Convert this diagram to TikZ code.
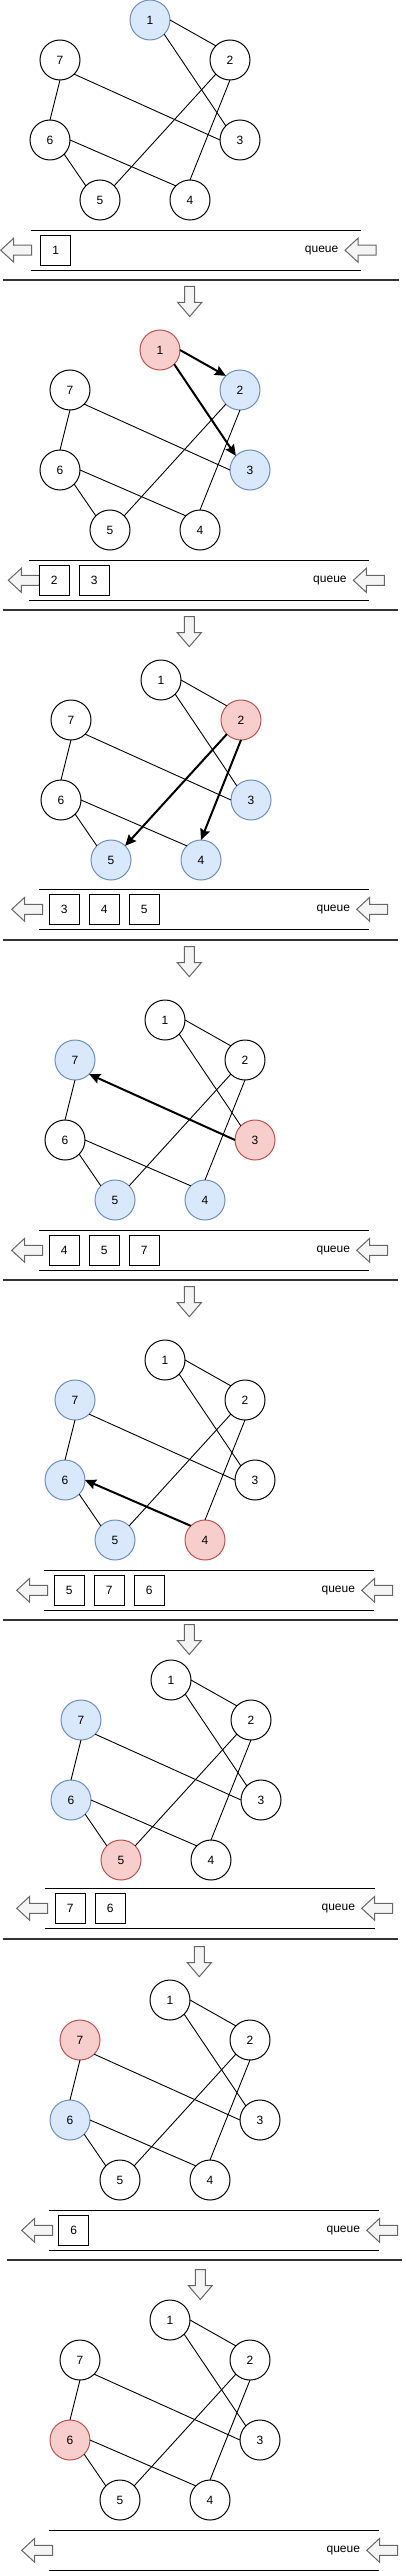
\documentclass[tikz,border=0pt]{standalone}
\usepackage{fontspec}
\setmainfont{Liberation Sans}
\usepackage{tikz}
\usetikzlibrary{positioning,arrows.meta}
\definecolor{seenfill}{HTML}{DAE8FC}
\definecolor{seenline}{HTML}{6C8EBF}
\definecolor{curfill}{HTML}{F8CECC}
\definecolor{curline}{HTML}{B85450}
\definecolor{arrfill}{HTML}{F5F5F5}
\definecolor{arrline}{HTML}{666666}

\newcommand{\bfsgraph}[1]{
  \node[vtx, v1] (#1-1) at (150,20) {1};
  \node[vtx, v2] (#1-2) at (230,60) {2};
  \node[vtx, v3] (#1-3) at (240,140) {3};
  \node[vtx, v4] (#1-4) at (190,200) {4};
  \node[vtx, v5] (#1-5) at (100,200) {5};
  \node[vtx, v6] (#1-6) at (50,140) {6};
  \node[vtx, v7] (#1-7) at (60,60) {7};
  \draw[e12] (#1-1.east) -- (#1-2.north west);
  \draw[e13] (#1-1.south east) -- (#1-3.north west);
  \draw[e73] (#1-7.south east) -- (#1-3.west);
  \draw[e76] (#1-7.south) -- (#1-6.north);
  \draw[e65] (#1-6.south east) -- (#1-5.north west);
  \draw[e64] (#1-6.east) -- (#1-4.north west);
  \draw[e25] (#1-2.south west) -- (#1-5.north east);
  \draw[e24] (#1-2.south) -- (#1-4.north);
}

\newcommand{\queuelane}[6]{
  \draw[qline] (#3,#5-20) -- (#4,#5-20);
  \draw[qline] (#3,#5+20) -- (#4,#5+20);
  \draw[qarrow] (#2,#5) -- ++(13,-12) -- ++(0,7) -- ++(18,0) -- ++(0,10) -- ++(-18,0) -- ++(0,7) -- cycle;
  \draw[qarrow] (#6,#5) -- ++(13,-12) -- ++(0,7) -- ++(18,0) -- ++(0,10) -- ++(-18,0) -- ++(0,7) -- cycle;
  \node[qlabel, anchor=east] (#1) at (#6-6.5,#5) {queue};
}

\newcommand{\downstep}[2]{
  \draw[qarrow] (#1-5,#2) -- ++(10,0) -- ++(0,16) -- ++(7,0) -- ++(-12,14) -- ++(-12,-14) -- ++(7,0) -- cycle;
}

\begin{document}
\begin{tikzpicture}[
    x=1pt, y=-1pt,
    font=\fontsize{12}{14}\selectfont,
    vtx/.style={circle, draw, fill=white, line width=1pt, minimum size=40pt, inner sep=0pt, outer sep=0pt},
    seen/.style={fill=seenfill, draw=seenline},
    cur/.style={fill=curfill, draw=curline},
    v1/.style={}, v2/.style={}, v3/.style={}, v4/.style={},
    v5/.style={}, v6/.style={}, v7/.style={},
    edge/.style={line width=0.9pt},
    visit/.style={line width=2pt, -{Stealth[length=11pt, width=10pt, inset=1.5pt]}},
    visitback/.style={line width=2pt, {Stealth[length=11pt, width=10pt, inset=1.5pt]}-},
    e12/.style=edge, e13/.style=edge, e73/.style=edge, e76/.style=edge,
    e65/.style=edge, e64/.style=edge, e25/.style=edge, e24/.style=edge,
    qbox/.style={rectangle, draw, line width=1pt, minimum size=30pt, inner sep=0pt, outer sep=0pt},
    qline/.style={line width=1pt},
    qlabel/.style={inner sep=0pt},
    qarrow/.style={fill=arrfill, draw=arrline, line width=1pt, line join=miter},
    sep/.style={line width=2pt, draw=black!80},
]
\useasboundingbox (0,0) rectangle (405,2571);

\begin{scope}[shift={(0,0)}, v1/.style=seen]
  \bfsgraph{a}
\end{scope}
\queuelane{qa}{0.7}{30.7}{360.7}{250.2}{345}
\node[qbox] (qa1) at (55.7,250.2) {1};
\draw[sep] (3.3,280.3) -- (399,280.3);
\downstep{189.7}{286.5}

\begin{scope}[shift={(10,330)}, v1/.style=cur, v2/.style=seen, v3/.style=seen, e12/.style=visit, e13/.style=visit]
  \bfsgraph{b}
\end{scope}
\queuelane{qb}{8.3}{29.3}{369.3}{580.3}{353.3}
\node[qbox] (qb1) at (54.3,580.3) {2};
\node[qbox, right=10pt of qb1] (qb2) {3};
\draw[sep] (2.7,610) -- (398.3,610);
\downstep{189.3}{616.7}

\begin{scope}[shift={(11,660)}, v2/.style=cur, v3/.style=seen, v4/.style=seen, v5/.style=seen, e25/.style=visit, e24/.style=visit]
  \bfsgraph{c}
\end{scope}
\queuelane{qc}{11.7}{39.3}{369.3}{909.3}{356.7}
\node[qbox] (qc1) at (64.3,909.3) {3};
\node[qbox, right=10pt of qc1] (qc2) {4};
\node[qbox, right=10pt of qc2] (qc3) {5};
\draw[sep] (2.7,940.3) -- (398.3,940.3);
\downstep{189.3}{946.7}

\begin{scope}[shift={(15,1000)}, v3/.style=cur, v4/.style=seen, v5/.style=seen, v7/.style=seen, e73/.style=visitback]
  \bfsgraph{d}
\end{scope}
\queuelane{qd}{11.7}{39.3}{369.3}{1250.3}{356.7}
\node[qbox] (qd1) at (64.3,1250.3) {4};
\node[qbox, right=10pt of qd1] (qd2) {5};
\node[qbox, right=10pt of qd2] (qd3) {7};
\draw[sep] (2.7,1280.3) -- (398.3,1280.3);
\downstep{189.3}{1286.7}

\begin{scope}[shift={(15,1340)}, v4/.style=cur, v5/.style=seen, v6/.style=seen, v7/.style=seen, e64/.style=visitback]
  \bfsgraph{e}
\end{scope}
\queuelane{qe}{16.7}{44.3}{374.3}{1590.3}{361.7}
\node[qbox] (qe1) at (69.3,1590.3) {5};
\node[qbox, right=10pt of qe1] (qe2) {7};
\node[qbox, right=10pt of qe2] (qe3) {6};
\draw[sep] (2.7,1620.3) -- (398.3,1620.3);
\downstep{189.3}{1624.5}

\begin{scope}[shift={(21,1660)}, v5/.style=cur, v6/.style=seen, v7/.style=seen]
  \bfsgraph{f}
\end{scope}
\queuelane{qf}{16.7}{45.3}{375.3}{1908.3}{361.7}
\node[qbox] (qf1) at (70.3,1908.3) {7};
\node[qbox, right=10pt of qf1] (qf2) {6};
\draw[sep] (2.7,1939.3) -- (398.3,1939.3);
\downstep{199.3}{1946.7}

\begin{scope}[shift={(20,1980)}, v7/.style=cur, v6/.style=seen]
  \bfsgraph{g}
\end{scope}
\queuelane{qg}{21.7}{48.7}{378.7}{2230.3}{366.7}
\node[qbox] (qg1) at (73.7,2230.3) {6};
\draw[sep] (6.7,2260.3) -- (402.3,2260.3);
\downstep{200.3}{2269.5}

\begin{scope}[shift={(20,2300)}, v6/.style=cur]
  \bfsgraph{h}
\end{scope}
\queuelane{qh}{21.7}{48.7}{378.7}{2550.3}{366.7}
\end{tikzpicture}
\end{document}
